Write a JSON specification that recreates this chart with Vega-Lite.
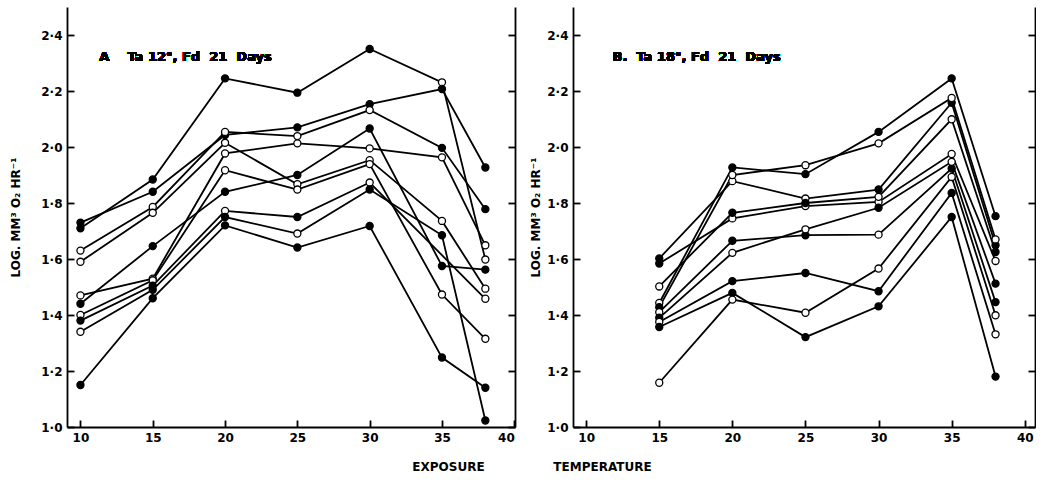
{
  "$schema": "https://vega.github.io/schema/vega-lite/v6.json",
  "padding": {"left": 9, "top": 7, "right": 0, "bottom": 0},
  "background": "white",
  "spacing": 13,
  "config": {
    "view": {"stroke": null},
    "font": "DejaVu Sans",
    "axis": {
      "grid": false,
      "domainColor": "black",
      "domainWidth": 1.8,
      "tickColor": "black",
      "tickWidth": 1.8,
      "tickSize": -7,
      "labelPadding": 12,
      "labelColor": "black",
      "labelFont": "DejaVu Sans",
      "labelFontWeight": "bold",
      "labelFontSize": 12,
      "titleFont": "DejaVu Sans",
      "titleFontWeight": "bold",
      "titleFontSize": 12,
      "titleColor": "black"
    }
  },
  "datasets": {
    "A": [
      {"id": "A1", "t": 10, "v": 1.71, "m": "F"}, {"id": "A1", "t": 15, "v": 1.884, "m": "F"}, {"id": "A1", "t": 20, "v": 2.245, "m": "F"}, {"id": "A1", "t": 25, "v": 2.194, "m": "F"}, {"id": "A1", "t": 30, "v": 2.35, "m": "F"}, {"id": "A1", "t": 35, "v": 2.231, "m": "O"}, {"id": "A1", "t": 38, "v": 1.598, "m": "O"},
      {"id": "A2", "t": 10, "v": 1.73, "m": "F"}, {"id": "A2", "t": 15, "v": 1.84, "m": "F"}, {"id": "A2", "t": 20, "v": 2.043, "m": "F"}, {"id": "A2", "t": 25, "v": 2.07, "m": "F"}, {"id": "A2", "t": 30, "v": 2.153, "m": "F"}, {"id": "A2", "t": 35, "v": 2.207, "m": "F"}, {"id": "A2", "t": 38, "v": 1.927, "m": "F"},
      {"id": "A3", "t": 10, "v": 1.63, "m": "O"}, {"id": "A3", "t": 15, "v": 1.786, "m": "O"}, {"id": "A3", "t": 20, "v": 2.054, "m": "O"}, {"id": "A3", "t": 25, "v": 2.039, "m": "O"}, {"id": "A3", "t": 30, "v": 2.132, "m": "O"}, {"id": "A3", "t": 35, "v": 1.997, "m": "F"}, {"id": "A3", "t": 38, "v": 1.778, "m": "F"},
      {"id": "A4", "t": 10, "v": 1.59, "m": "O"}, {"id": "A4", "t": 15, "v": 1.765, "m": "O"}, {"id": "A4", "t": 20, "v": 2.015, "m": "O"}, {"id": "A4", "t": 25, "v": 1.867, "m": "O"}, {"id": "A4", "t": 30, "v": 1.953, "m": "O"}, {"id": "A4", "t": 35, "v": 1.736, "m": "O"}, {"id": "A4", "t": 38, "v": 1.494, "m": "O"},
      {"id": "A5", "t": 10, "v": 1.44, "m": "F"}, {"id": "A5", "t": 15, "v": 1.646, "m": "F"}, {"id": "A5", "t": 20, "v": 1.84, "m": "F"}, {"id": "A5", "t": 25, "v": 1.9, "m": "F"}, {"id": "A5", "t": 30, "v": 2.066, "m": "F"}, {"id": "A5", "t": 35, "v": 1.575, "m": "F"}, {"id": "A5", "t": 38, "v": 1.562, "m": "F"},
      {"id": "A6", "t": 10, "v": 1.47, "m": "O"}, {"id": "A6", "t": 15, "v": 1.53, "m": "O"}, {"id": "A6", "t": 20, "v": 1.977, "m": "O"}, {"id": "A6", "t": 25, "v": 2.013, "m": "O"}, {"id": "A6", "t": 30, "v": 1.995, "m": "O"}, {"id": "A6", "t": 35, "v": 1.963, "m": "O"}, {"id": "A6", "t": 38, "v": 1.649, "m": "O"},
      {"id": "A7", "t": 10, "v": 1.4, "m": "O"}, {"id": "A7", "t": 15, "v": 1.524, "m": "O"}, {"id": "A7", "t": 20, "v": 1.917, "m": "O"}, {"id": "A7", "t": 25, "v": 1.848, "m": "O"}, {"id": "A7", "t": 30, "v": 1.939, "m": "O"}, {"id": "A7", "t": 35, "v": 1.473, "m": "O"}, {"id": "A7", "t": 38, "v": 1.315, "m": "O"},
      {"id": "A8", "t": 10, "v": 1.38, "m": "F"}, {"id": "A8", "t": 15, "v": 1.505, "m": "F"}, {"id": "A8", "t": 20, "v": 1.772, "m": "O"}, {"id": "A8", "t": 25, "v": 1.75, "m": "F"}, {"id": "A8", "t": 30, "v": 1.873, "m": "O"}, {"id": "A8", "t": 38, "v": 1.458, "m": "O"},
      {"id": "A9", "t": 10, "v": 1.34, "m": "O"}, {"id": "A9", "t": 15, "v": 1.49, "m": "F"}, {"id": "A9", "t": 20, "v": 1.75, "m": "F"}, {"id": "A9", "t": 25, "v": 1.691, "m": "O"}, {"id": "A9", "t": 30, "v": 1.848, "m": "F"}, {"id": "A9", "t": 35, "v": 1.685, "m": "F"}, {"id": "A9", "t": 38, "v": 1.023, "m": "F"},
      {"id": "A10", "t": 10, "v": 1.15, "m": "F"}, {"id": "A10", "t": 15, "v": 1.46, "m": "F"}, {"id": "A10", "t": 20, "v": 1.72, "m": "F"}, {"id": "A10", "t": 25, "v": 1.641, "m": "F"}, {"id": "A10", "t": 30, "v": 1.718, "m": "F"}, {"id": "A10", "t": 35, "v": 1.248, "m": "F"}, {"id": "A10", "t": 38, "v": 1.14, "m": "F"}
    ],
    "B": [
      {"id": "B1", "t": 15, "v": 1.602, "m": "F"}, {"id": "B1", "t": 20, "v": 1.878, "m": "O"}, {"id": "B1", "t": 25, "v": 1.816, "m": "O"}, {"id": "B1", "t": 30, "v": 1.848, "m": "F"}, {"id": "B1", "t": 35, "v": 2.158, "m": "F"}, {"id": "B1", "t": 38, "v": 1.649, "m": "F"},
      {"id": "B2", "t": 15, "v": 1.584, "m": "F"}, {"id": "B2", "t": 20, "v": 1.745, "m": "O"}, {"id": "B2", "t": 25, "v": 1.789, "m": "O"}, {"id": "B2", "t": 30, "v": 1.804, "m": "O"}, {"id": "B2", "t": 35, "v": 1.975, "m": "O"}, {"id": "B2", "t": 38, "v": 1.593, "m": "O"},
      {"id": "B3", "t": 15, "v": 1.502, "m": "O"}, {"id": "B3", "t": 20, "v": 1.765, "m": "F"}, {"id": "B3", "t": 25, "v": 1.8, "m": "F"}, {"id": "B3", "t": 30, "v": 1.822, "m": "O"}, {"id": "B3", "t": 35, "v": 2.099, "m": "O"}, {"id": "B3", "t": 38, "v": 1.625, "m": "F"},
      {"id": "B4", "t": 15, "v": 1.443, "m": "O"}, {"id": "B4", "t": 20, "v": 1.927, "m": "F"}, {"id": "B4", "t": 25, "v": 1.903, "m": "F"}, {"id": "B4", "t": 30, "v": 2.054, "m": "F"}, {"id": "B4", "t": 35, "v": 2.245, "m": "F"}, {"id": "B4", "t": 38, "v": 1.753, "m": "F"},
      {"id": "B5", "t": 15, "v": 1.428, "m": "F"}, {"id": "B5", "t": 20, "v": 1.9, "m": "O"}, {"id": "B5", "t": 25, "v": 1.935, "m": "O"}, {"id": "B5", "t": 30, "v": 2.013, "m": "O"}, {"id": "B5", "t": 35, "v": 2.175, "m": "O"}, {"id": "B5", "t": 38, "v": 1.67, "m": "O"},
      {"id": "B6", "t": 15, "v": 1.41, "m": "O"}, {"id": "B6", "t": 20, "v": 1.665, "m": "F"}, {"id": "B6", "t": 25, "v": 1.685, "m": "F"}, {"id": "B6", "t": 30, "v": 1.687, "m": "O"}, {"id": "B6", "t": 35, "v": 1.923, "m": "F"}, {"id": "B6", "t": 38, "v": 1.446, "m": "F"},
      {"id": "B7", "t": 15, "v": 1.39, "m": "F"}, {"id": "B7", "t": 20, "v": 1.622, "m": "O"}, {"id": "B7", "t": 25, "v": 1.706, "m": "O"}, {"id": "B7", "t": 30, "v": 1.783, "m": "F"}, {"id": "B7", "t": 35, "v": 1.947, "m": "O"}, {"id": "B7", "t": 38, "v": 1.512, "m": "F"},
      {"id": "B8", "t": 15, "v": 1.375, "m": "O"}, {"id": "B8", "t": 20, "v": 1.521, "m": "F"}, {"id": "B8", "t": 25, "v": 1.55, "m": "F"}, {"id": "B8", "t": 30, "v": 1.485, "m": "F"}, {"id": "B8", "t": 35, "v": 1.836, "m": "F"}, {"id": "B8", "t": 38, "v": 1.331, "m": "O"},
      {"id": "B9", "t": 15, "v": 1.357, "m": "F"}, {"id": "B9", "t": 20, "v": 1.479, "m": "F"}, {"id": "B9", "t": 25, "v": 1.321, "m": "F"}, {"id": "B9", "t": 30, "v": 1.431, "m": "F"}, {"id": "B9", "t": 35, "v": 1.75, "m": "F"}, {"id": "B9", "t": 38, "v": 1.18, "m": "F"},
      {"id": "B10", "t": 15, "v": 1.158, "m": "O"}, {"id": "B10", "t": 20, "v": 1.455, "m": "O"}, {"id": "B10", "t": 25, "v": 1.408, "m": "O"}, {"id": "B10", "t": 30, "v": 1.566, "m": "O"}, {"id": "B10", "t": 35, "v": 1.893, "m": "O"}, {"id": "B10", "t": 38, "v": 1.399, "m": "O"}
    ]
  },
  "hconcat": [
    {
      "width": 448,
      "height": 420,
      "data": {"name": "A"},
      "layer": [
        {
          "mark": {"type": "line", "color": "black", "strokeWidth": 1.8},
          "encoding": {
            "x": {"field": "t", "type": "quantitative", "scale": {"domain": [9.07, 40.05], "nice": false, "zero": false},
                  "axis": {"values": [10, 15, 20, 25, 30, 35, 40], "title": "EXPOSURE", "titleX": 381, "titleY": 39, "titleBaseline": "middle"}},
            "y": {"field": "v", "type": "quantitative", "scale": {"domain": [1, 2.5], "nice": false, "zero": false},
                  "axis": {"values": [1, 1.2, 1.4, 1.6, 1.8, 2, 2.2, 2.4], "labelExpr": "replace(format(datum.value, '.1f'), '.', '·')", "title": "LOG. MM³ O₂ HR⁻¹", "titlePadding": 18}},
            "detail": {"field": "id"}
          }
        },
        {
          "mark": {"type": "point", "filled": true, "stroke": "black", "strokeWidth": 1.3, "size": 50, "opacity": 1},
          "encoding": {
            "x": {"field": "t", "type": "quantitative"},
            "y": {"field": "v", "type": "quantitative", "axis": {"orient": "right", "values": [1, 1.2, 1.4, 1.6, 1.8, 2, 2.2, 2.4], "labels": false, "title": null}},
            "fill": {"field": "m", "type": "nominal", "scale": {"domain": ["F", "O"], "range": ["black", "white"]}, "legend": null}
          }
        },
        {
          "mark": {"type": "text", "text": "A\u00a0\u00a0\u00a0\u00a0Ta\u00a012°,\u00a0Fd\u00a0\u00a021\u00a0\u00a0Days", "align": "left", "baseline": "middle", "fontSize": 13, "fontWeight": "bold", "font": "DejaVu Sans", "color": "black"},
          "encoding": {"x": {"datum": 11.3, "type": "quantitative"}, "y": {"datum": 2.32, "type": "quantitative", "axis": null}}
        }
      ],
      "resolve": {"axis": {"y": "independent"}}
    },
    {
      "width": 462,
      "height": 420,
      "data": {"name": "B"},
      "layer": [
        {
          "mark": {"type": "line", "color": "black", "strokeWidth": 1.8},
          "encoding": {
            "x": {"field": "t", "type": "quantitative", "scale": {"domain": [9.1, 40.7], "nice": false, "zero": false},
                  "axis": {"values": [10, 15, 20, 25, 30, 35, 40], "title": "TEMPERATURE", "titleX": 29, "titleY": 39, "titleBaseline": "middle"}},
            "y": {"field": "v", "type": "quantitative", "scale": {"domain": [1, 2.5], "nice": false, "zero": false},
                  "axis": {"values": [1, 1.2, 1.4, 1.6, 1.8, 2, 2.2, 2.4], "labelExpr": "replace(format(datum.value, '.1f'), '.', '·')", "title": "LOG. MM³ O₂ HR⁻¹", "titlePadding": 4}},
            "detail": {"field": "id"}
          }
        },
        {
          "mark": {"type": "point", "filled": true, "stroke": "black", "strokeWidth": 1.3, "size": 50, "opacity": 1},
          "encoding": {
            "x": {"field": "t", "type": "quantitative"},
            "y": {"field": "v", "type": "quantitative", "axis": {"orient": "right", "values": [1, 1.2, 1.4, 1.6, 1.8, 2, 2.2, 2.4], "labels": false, "title": null}},
            "fill": {"field": "m", "type": "nominal", "scale": {"domain": ["F", "O"], "range": ["black", "white"]}, "legend": null}
          }
        },
        {
          "mark": {"type": "text", "text": "B.\u00a0\u00a0Ta\u00a018°,\u00a0Fd\u00a0\u00a021\u00a0\u00a0Days", "align": "left", "baseline": "middle", "fontSize": 13, "fontWeight": "bold", "font": "DejaVu Sans", "color": "black"},
          "encoding": {"x": {"datum": 11.8, "type": "quantitative"}, "y": {"datum": 2.32, "type": "quantitative", "axis": null}}
        }
      ],
      "resolve": {"axis": {"y": "independent"}}
    }
  ]
}
